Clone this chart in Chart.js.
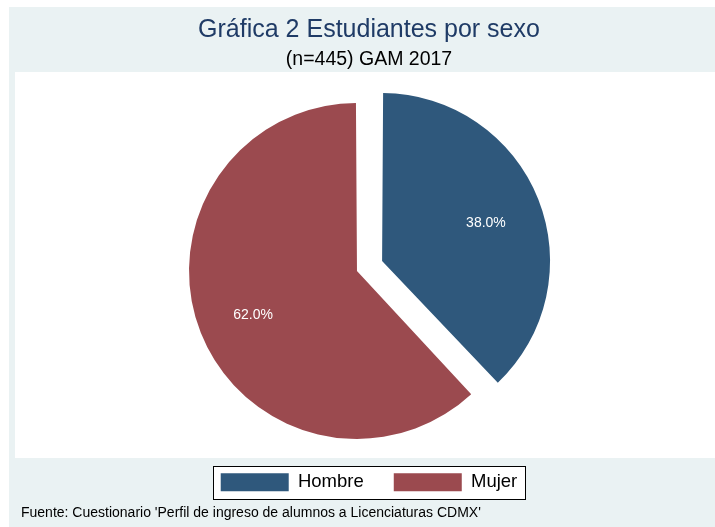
<!DOCTYPE html>
<html>
<head>
<meta charset="utf-8">
<title>Gráfica 2 Estudiantes por sexo</title>
<script src="https://cdn.jsdelivr.net/npm/chart.js@4.4.1/dist/chart.umd.min.js"></script>
<style>
  html, body { margin: 0; padding: 0; overflow: hidden; background: #ffffff; width: 715px; height: 527px; }
  #grafica { position: absolute; left: 9px; top: 7px; }
</style>
</head>
<body>
<canvas id="grafica" width="720" height="520"></canvas>
<script>
// DATOS DE LA GRAFICA
const categorias = ["Hombre", "Mujer"];
const porcentajes = [38.0, 62.0];
const colores = ["#2f587c", "#9b4a4f"];
const separacion = [82.1, 25.9];
const titulo = "Gráfica 2 Estudiantes por sexo";
const subtitulo = "(n=445) GAM 2017";
const nota = "Fuente: Cuestionario 'Perfil de ingreso de alumnos a Licenciaturas CDMX'";

const FUENTE = "'Liberation Sans', Arial, sans-serif";

// ESPACIO A LA DERECHA PARA CENTRAR EL PASTEL COMO EN EL ORIGINAL
const espaciador = {
  position: "right",
  weight: 0,
  fullSize: false,
  options: {},
  isHorizontal() { return false; },
  update(maxWidth, maxHeight) {
    this.width = 12;
    this.height = maxHeight;
  },
  draw() {}
};

const espaciadorPlugin = {
  id: "espaciador",
  beforeInit(chart) {
    Chart.layouts.addBox(chart, espaciador);
  }
};

// FONDO, REGION BLANCA, RECUADRO DE LA LEYENDA Y NOTA
const fondoPlugin = {
  id: "fondo",
  beforeDraw(chart) {
    const ctx = chart.ctx;
    ctx.save();
    ctx.fillStyle = "#eaf2f3";
    ctx.fillRect(0, 0, chart.width, chart.height);
    ctx.fillStyle = "#ffffff";
    ctx.fillRect(6, 65, chart.width - 12, 386);

    const cajas = chart.legend.legendHitBoxes;
    if (cajas && cajas.length) {
      const ult = cajas[cajas.length - 1];
      const x0 = Math.round(cajas[0].left - 7.5) + 0.5;
      const x1 = Math.round(ult.left + ult.width + 8) + 0.5;
      const y0 = Math.round(cajas[0].top - 7.5) + 0.5;
      const y1 = Math.round(cajas[0].top + cajas[0].height + 7.5) + 0.5;
      ctx.fillRect(x0, y0, x1 - x0, y1 - y0);
      ctx.strokeStyle = "#000000";
      ctx.lineWidth = 1;
      ctx.strokeRect(x0, y0, x1 - x0, y1 - y0);
    }

    ctx.fillStyle = "#000000";
    ctx.font = "14px " + FUENTE;
    ctx.textAlign = "left";
    ctx.textBaseline = "alphabetic";
    ctx.fillText(nota, 12, 510);
    ctx.restore();
  }
};

// PORCENTAJES DENTRO DE CADA REBANADA
const etiquetasPlugin = {
  id: "etiquetas",
  afterDatasetsDraw(chart) {
    const ctx = chart.ctx;
    const meta = chart.getDatasetMeta(0);
    ctx.save();
    ctx.fillStyle = "#ffffff";
    ctx.font = "14px " + FUENTE;
    ctx.textAlign = "center";
    ctx.textBaseline = "alphabetic";
    meta.data.forEach((arco, i) => {
      const p = arco.getProps(["x", "y", "startAngle", "endAngle", "outerRadius", "circumference"], true);
      const medio = (p.startAngle + p.endAngle) / 2;
      const desp = (arco.options.offset || 0) / 4;
      const fix = 1 - Math.sin(Math.min(Math.PI, p.circumference));
      const r = desp + (p.outerRadius + desp * fix) * 0.665;
      ctx.fillText(porcentajes[i].toFixed(1) + "%", p.x + Math.cos(medio) * r, p.y + Math.sin(medio) * r + 7);
    });
    ctx.restore();
  }
};

const config = {
  type: "pie",
  data: {
    labels: categorias,
    datasets: [{
      data: porcentajes,
      backgroundColor: colores,
      borderWidth: 0,
      offset: separacion,
      radius: 161.5,
      clip: false
    }]
  },
  options: {
    responsive: false,
    animation: false,
    events: [],
    layout: { padding: { top: 0, bottom: 25.5, left: 0, right: 0 } },
    plugins: {
      title: {
        display: true,
        text: titulo,
        color: "#1f3b66",
        font: { family: FUENTE, size: 25, weight: "normal" },
        padding: { top: 8, bottom: 0 }
      },
      subtitle: {
        display: true,
        text: subtitulo,
        color: "#000000",
        font: { family: FUENTE, size: 19.5, weight: "normal" },
        padding: { top: 3, bottom: 22.8 }
      },
      legend: {
        position: "bottom",
        labels: {
          boxWidth: 68,
          boxHeight: 18,
          padding: 30,
          color: "#000000",
          font: { family: FUENTE, size: 18.5 }
        }
      },
      tooltip: { enabled: false }
    }
  },
  plugins: [espaciadorPlugin, fondoPlugin, etiquetasPlugin]
};

const grafica = new Chart(document.getElementById("grafica"), config);
</script>
</body>
</html>
